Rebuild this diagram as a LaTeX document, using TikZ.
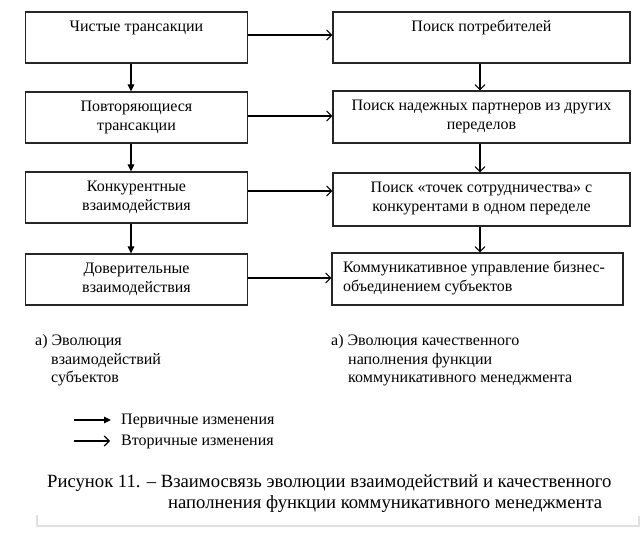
\documentclass[tikz,border=0pt]{standalone}
\usepackage{fontspec}
\setmainfont{Liberation Serif}
\usetikzlibrary{arrows.meta}
\newcommand{\boxtxt}[4]{\begin{minipage}[c][#2][t]{#1}#3\vspace*{7pt}\strut #4\end{minipage}}
\begin{document}
\begin{tikzpicture}[x=1pt,y=-1pt,
  every node/.style={font=\fontsize{16pt}{18.4pt}\selectfont},
  box/.style={draw=black!85, line width=1.1pt, inner sep=0pt},
  prim/.style={line width=1.1pt, -{Triangle[length=7pt,width=6.5pt]}},
  sec/.style={line width=1.1pt, -{Straight Barb[length=5pt,width=10pt,line width=1.1pt]}},
  lbl/.style={anchor=base west, align=left, inner sep=0pt}
]
\useasboundingbox (0,0) rectangle (643,534);

% left column
\node[box] (L1) at (136.5,37.5) {\boxtxt{222pt}{51pt}{\centering}{Чистые трансакции}};
\node[box] (L2) at (136.5,117.5) {\boxtxt{222pt}{51pt}{\centering}{Повторяющиеся\\трансакции}};
\node[box] (L3) at (136.5,197.5) {\boxtxt{222pt}{51pt}{\centering}{Конкурентные\\взаимодействия}};
\node[box] (L4) at (136.5,279.5) {\boxtxt{222pt}{51pt}{\centering}{Доверительные\\взаимодействия}};

% right column
\node[box] (R1) at (481.5,37.5) {\boxtxt{297pt}{51pt}{\centering}{Поиск потребителей}};
\node[box] (R2) at (481.5,117) {\boxtxt{297pt}{52pt}{\centering}{Поиск надежных партнеров из других\\переделов}};
\node[box] (R3) at (481.5,199.5) {\boxtxt{297pt}{53pt}{\centering}{Поиск «точек сотрудничества» с\\конкурентами в одном переделе}};
\node[box] (R4) at (477.5,279) {\boxtxt{291pt}{52pt}{\raggedright\leftskip=11pt}{Коммуникативное управление бизнес-\\объединением субъектов}};

% vertical arrows
\draw[prim] ([xshift=-5.5pt]L1.south) -- ([xshift=-5.5pt]L2.north);
\draw[prim] ([xshift=-5.5pt]L2.south) -- ([xshift=-5.5pt]L3.north);
\draw[prim] ([xshift=-5.5pt]L3.south) -- ([xshift=-5.5pt]L4.north);
\draw[sec] ([xshift=-1.5pt]R1.south) -- ([xshift=-1.5pt]R2.north);
\draw[sec] ([xshift=-1.5pt]R2.south) -- ([xshift=-1.5pt]R2.south |- R3.north);
\draw[sec] ([xshift=-1.5pt]R3.south) -- ([xshift=-1.5pt]R3.south |- R4.north);

% horizontal arrows
\draw[sec] ([yshift=2.5pt]L1.east) -- ([yshift=2.5pt]L1.east -| R1.west);
\draw[sec] ([yshift=1.5pt]L2.east) -- ([yshift=1.5pt]L2.east -| R2.west);
\draw[sec] ([yshift=6.5pt]L3.east) -- ([yshift=6.5pt]L3.east -| R3.west);
\draw[sec] ([yshift=1.5pt]L4.east) -- ([yshift=1.5pt]L4.east -| R4.west);

% sub-captions (base = baseline of last line)
\node[lbl] (capL) at (35,382.7) {а) Эволюция\\\hspace*{16pt}взаимодействий\\\hspace*{16pt}субъектов};
\node[lbl] (capR) at (331,382.7) {а) Эволюция качественного\\\hspace*{17pt}наполнения функции\\\hspace*{17pt}коммуникативного менеджмента};

% legend
\coordinate (lp) at (74,420);
\node[lbl] (tp) at (121,424.5) {Первичные изменения};
\draw[prim, shorten >=10pt] (lp) -- (lp -| tp.west);
\coordinate (ls) at (74,441);
\node[lbl] (ts) at (121,445.5) {Вторичные изменения};
\draw[sec, shorten >=11pt] (ls) -- (ls -| ts.west);

% figure caption
\node[lbl, font=\fontsize{18.67pt}{20.5pt}\selectfont] (cap) at (47,508)
  {Рисунок 11. – Взаимосвязь эволюции взаимодействий и качественного\\\hspace*{121pt}наполнения функции коммуникативного менеджмента};

% page edge
\draw[black!12, line width=1.2pt] (37,515) -- (37,526) -- (639,526) -- (639,516);
\end{tikzpicture}
\end{document}
